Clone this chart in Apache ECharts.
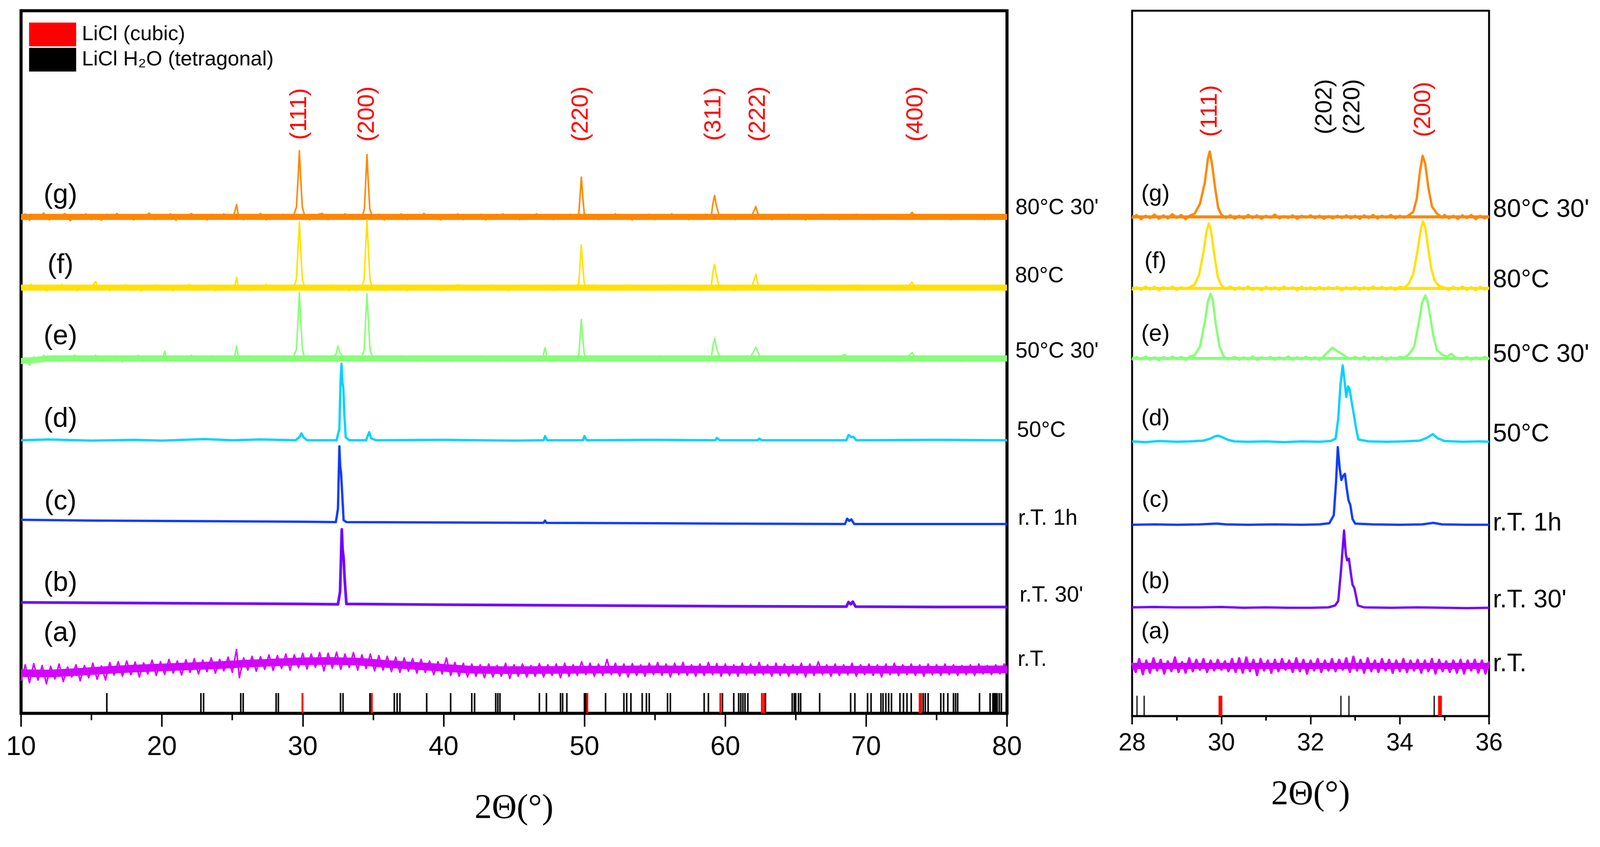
<!DOCTYPE html>
<html>
<head>
<meta charset="utf-8">
<script src="https://cdn.jsdelivr.net/npm/echarts@6/dist/echarts.min.js"></script>
<style>
  html, body { margin: 0; padding: 0; background: #fff; overflow: hidden; }
  #main { width: 4182px; height: 2169px; transform-origin: 0 0; }
</style>
</head>
<body>
<div id="main"></div>
<script>
// sample names, bottom to top
var sampleTags = ['(a)', '(b)', '(c)', '(d)', '(e)', '(f)', '(g)'];
var conditions = ["r.T.", "r.T. 30'", "r.T. 1h", "50°C", "50°C 30'", "80°C", "80°C 30'"];

// vertical offsets of each pattern (a.u.)
var offsetsLeft = [115, 278, 495, 714, 928, 1113, 1298];
var offsetsRight = [131, 283, 500, 717, 935, 1118, 1305];

// reference patterns (2theta)
var refCubic = [29.98, 34.9, 50.2, 59.65, 62.6, 62.75, 73.8, 73.9];
var refTetragonal = [16.09, 22.77, 22.96, 25.6, 25.77, 28.11, 28.27, 32.68, 32.86, 34.77, 36.5, 36.7, 36.9, 38.8, 40.5,
  42.0, 42.2, 43.7, 43.85, 44.0, 46.8, 47.3, 48.3, 48.45, 48.75, 50.0, 50.1, 51.5, 52.8, 53.0, 53.3, 54.1, 54.4, 54.6,
  55.9, 56.1, 58.5, 58.8, 59.8, 60.6, 60.95, 61.1, 61.25, 61.4, 61.6, 62.85, 64.75, 64.9, 65.0, 65.2, 65.35, 66.7,
  68.9, 69.2, 70.1, 70.35, 71.05, 71.2, 71.4, 71.6, 71.8, 72.4, 72.65, 72.9, 73.2, 74.05, 74.2, 74.4, 75.3, 75.5,
  75.8, 76.2, 76.35, 76.5, 78.05, 78.8, 79.0, 79.1, 79.2, 79.3, 79.45, 79.6];
var refTickHeight = 53;

var millerLeft = ['(111)', '(200)', '(220)', '(311)', '(222)', '(400)'];
var millerLeftPos = [29.78, 34.59, 49.76, 59.18, 62.34, 73.53];
var millerRight = ['(111)', '(202)', '(220)', '(200)'];
var millerRightPos = [29.75, 32.32, 32.95, 34.53];
var millerRightPhase = ['cubic', 'tetragonal', 'tetragonal', 'cubic'];

// measured patterns, [2theta, intensity above own baseline]
var leftA = [[10.0,-30],[10.3,12],[10.6,-35],[10.9,15],[11.2,-28],[11.5,10],[11.8,-38],[12.1,8],[12.4,-25],[12.7,14],[13.0,-32],[13.3,6],[13.6,-20],[13.9,12],[14.2,-30],[14.5,10],[14.8,-22],[15.1,16],[15.4,-26],[15.7,9],[16.0,-28],[16.3,18],[16.6,-15],[16.9,20],[17.2,-18],[17.5,22],[17.8,-14],[18.1,19],[18.4,-20],[18.7,17],[19.0,-12],[19.3,24],[19.6,-16],[19.9,20],[20.2,-13],[20.5,26],[20.8,-10],[21.1,22],[21.4,-15],[21.7,25],[22.0,-8],[22.3,28],[22.6,-12],[22.9,24],[23.2,-6],[23.5,30],[23.8,-10],[24.1,26],[24.4,-4],[24.7,32],[25.0,-8],[25.3,52],[25.5,-22],[25.8,30],[26.1,-2],[26.4,34],[26.7,-5],[27.0,33],[27.3,0],[27.6,38],[27.9,-3],[28.2,36],[28.5,2],[28.8,40],[29.1,-2],[29.4,38],[29.7,4],[30.0,42],[30.3,1],[30.6,40],[30.9,5],[31.2,44],[31.5,-4],[31.8,42],[32.1,3],[32.4,45],[32.7,0],[33.0,40],[33.3,5],[33.6,44],[33.9,-2],[34.2,38],[34.5,2],[34.8,40],[35.1,-4],[35.4,36],[35.7,-2],[36.0,34],[36.3,-6],[36.6,32],[36.9,-8],[37.2,30],[37.5,-5],[37.8,28],[38.1,-10],[38.4,26],[38.7,-8],[39.0,22],[39.3,-14],[39.6,20],[39.9,-12],[40.2,30],[40.5,-16],[40.8,18],[41.1,-18],[41.4,16],[41.7,-20],[42.0,14],[42.3,-18],[42.6,12],[42.9,-22],[43.2,14],[43.5,-20],[43.8,10],[44.1,-18],[44.4,16],[44.7,-24],[45.0,12],[45.3,-18],[45.6,14],[45.9,-20],[46.2,10],[46.5,-18],[46.8,15],[47.1,-20],[47.4,12],[47.7,-16],[48.0,14],[48.3,-22],[48.6,16],[48.9,-18],[49.2,12],[49.5,-16],[49.8,20],[50.1,-14],[50.4,16],[50.7,-18],[51.0,14],[51.3,-16],[51.6,26],[51.9,-14],[52.2,16],[52.5,-18],[52.8,14],[53.1,-20],[53.4,15],[53.7,-16],[54.0,12],[54.3,-18],[54.6,16],[54.9,-14],[55.2,18],[55.5,-16],[55.8,14],[56.1,-20],[56.4,16],[56.7,-14],[57.0,18],[57.3,-16],[57.6,12],[57.9,-18],[58.2,14],[58.5,-16],[58.8,18],[59.1,-14],[59.4,15],[59.7,-18],[60.0,14],[60.3,-16],[60.6,12],[60.9,-18],[61.2,16],[61.5,-14],[61.8,14],[62.1,-16],[62.4,18],[62.7,-14],[63.0,12],[63.3,-18],[63.6,16],[63.9,-16],[64.2,14],[64.5,-18],[64.8,12],[65.1,-14],[65.4,16],[65.7,-20],[66.0,14],[66.3,-16],[66.6,20],[66.9,-14],[67.2,12],[67.5,-18],[67.8,14],[68.1,-16],[68.4,12],[68.7,-14],[69.0,16],[69.3,-18],[69.6,12],[69.9,-14],[70.2,14],[70.5,-16],[70.8,12],[71.1,-20],[71.4,14],[71.7,-14],[72.0,16],[72.3,-16],[72.6,12],[72.9,-14],[73.2,14],[73.5,-16],[73.8,12],[74.1,-18],[74.4,14],[74.7,-14],[75.0,12],[75.3,-16],[75.6,14],[75.9,-14],[76.2,12],[76.5,-16],[76.8,10],[77.1,-14],[77.4,12],[77.7,-16],[78.0,14],[78.3,-12],[78.6,10],[78.9,-14],[79.2,12],[79.5,-12],[79.8,14],[80.0,-4]];

var leftB = [[10,12],[15,11],[20,10],[25,9],[30,8],[32.5,7],[32.65,40],[32.77,203],[32.83,150],[32.9,129],[32.98,70],[33.1,8],[40,6],[50,4],[60,2],[68.6,1],[68.75,13],[68.9,7],[69.05,14],[69.25,1],[75,0],[80,0]];

var leftC = [[10,11],[15,9],[20,8],[25,7],[30,6],[32.35,5],[32.5,40],[32.6,203],[32.66,150],[32.72,134],[32.8,80],[32.9,10],[33.1,5],[40,4],[47.1,3],[47.2,9],[47.3,3],[55,2],[60,1],[68.5,0],[68.65,14],[68.8,8],[68.95,12],[69.15,0],[75,0],[80,0]];

var leftD = [[10,0],[12,2],[15,-1],[18,1],[20,-1],[23,3],[25,0],[27,2],[29.5,0],[29.8,10],[29.9,18],[30.05,8],[30.3,0],[32.4,0],[32.6,30],[32.68,150],[32.75,200],[32.82,150],[32.88,138],[32.95,70],[33.05,8],[33.3,0],[34.5,0],[34.65,15],[34.72,21],[34.85,5],[35.2,0],[40,1],[45,-1],[47.1,0],[47.2,11],[47.35,0],[49.9,0],[50.0,11],[50.15,0],[55,1],[59.3,0],[59.4,6],[59.6,0],[62.3,0],[62.4,4],[62.6,0],[68.6,0],[68.75,14],[68.95,8],[69.1,9],[69.3,0],[75,1],[80,0]];

var leftE = [[10.0,-14],[10.3,2],[10.6,-18],[10.9,4],[11.3,-9],[11.6,8],[12.0,-6],[12.4,7],[12.7,-8],[13.1,5],[13.5,-5],[13.8,9],[14.2,-7],[14.6,4],[15.0,-6],[15.3,8],[15.7,-8],[16.1,5],[16.5,-4],[16.8,7],[17.2,-9],[17.6,4],[18.0,-5],[18.3,8],[18.7,-7],[19.1,3],[19.5,-6],[19.8,6],[20.05,-2],[20.2,19],[20.35,-3],[20.6,6],[21.0,-8],[21.3,5],[21.7,-5],[22.1,8],[22.5,-7],[22.8,4],[23.2,-6],[23.6,7],[24.0,-5],[24.4,6],[24.8,-7],[25.15,3],[25.3,32],[25.45,2],[25.8,-6],[26.2,7],[26.6,-5],[27.0,6],[27.4,-8],[27.8,5],[28.2,-4],[28.6,7],[29.0,-6],[29.35,4],[29.55,24],[29.68,110],[29.76,173],[29.84,112],[29.97,26],[30.15,-3],[30.5,6],[30.9,-7],[31.3,5],[31.7,-5],[32.1,4],[32.35,10],[32.5,33],[32.65,14],[32.8,6],[33.1,-6],[33.5,5],[33.9,-4],[34.2,3],[34.36,22],[34.47,105],[34.56,169],[34.65,104],[34.78,22],[35.0,-2],[35.4,6],[35.8,-7],[36.2,4],[36.6,-5],[37.0,7],[37.4,-6],[37.8,5],[38.2,-8],[38.6,6],[39.0,-4],[39.4,7],[39.8,-6],[40.2,4],[40.6,-7],[41.0,6],[41.4,-4],[41.8,5],[42.2,-6],[42.6,7],[43.0,-5],[43.4,4],[43.8,-7],[44.2,6],[44.6,-4],[45.0,5],[45.4,-6],[45.8,7],[46.2,-5],[46.6,5],[47.05,4],[47.2,28],[47.35,3],[47.7,-6],[48.1,5],[48.5,-5],[48.9,6],[49.3,-4],[49.6,10],[49.7,62],[49.78,102],[49.86,64],[49.98,12],[50.2,-4],[50.6,6],[51.0,-7],[51.4,5],[51.8,-5],[52.2,6],[52.6,-6],[53.0,4],[53.4,-7],[53.8,6],[54.2,-4],[54.6,5],[55.0,-6],[55.4,7],[55.8,-5],[56.2,4],[56.6,-7],[57.0,6],[57.4,-4],[57.8,5],[58.2,-6],[58.6,6],[59.0,2],[59.12,32],[59.24,52],[59.36,30],[59.55,8],[59.9,-5],[60.3,6],[60.7,-6],[61.1,5],[61.5,-4],[61.85,8],[62.05,20],[62.17,29],[62.3,18],[62.5,2],[62.8,-5],[63.2,6],[63.6,-6],[64.0,4],[64.4,-5],[64.8,6],[65.2,-7],[65.6,4],[66.0,-4],[66.4,6],[66.8,-6],[67.2,5],[67.6,-5],[68.0,4],[68.5,10],[68.9,-4],[69.3,5],[69.7,-6],[70.1,4],[70.5,-5],[70.9,6],[71.3,-7],[71.7,5],[72.1,-4],[72.5,5],[72.9,2],[73.26,15],[73.6,-3],[74.0,5],[74.4,-6],[74.8,4],[75.2,-7],[75.6,5],[76.0,-5],[76.4,4],[76.8,-8],[77.2,5],[77.6,-5],[78.0,6],[78.4,-6],[78.8,4],[79.2,-5],[79.6,5],[80.0,-3]];

var leftF = [[10.0,4],[10.3,-7],[10.7,9],[11.0,-5],[11.4,7],[11.8,-9],[12.1,5],[12.5,-4],[12.9,8],[13.2,-6],[13.6,3],[14.0,-8],[14.4,6],[14.7,-5],[15.1,7],[15.3,16],[15.5,-6],[15.9,4],[16.3,-8],[16.6,6],[17.0,-3],[17.4,8],[17.8,-7],[18.1,5],[18.5,-9],[18.9,6],[19.3,-4],[19.6,7],[20.0,-6],[20.4,3],[20.8,-8],[21.1,6],[21.5,-4],[21.9,8],[22.3,-7],[22.6,4],[23.0,-5],[23.4,7],[23.8,-8],[24.1,5],[24.5,-4],[24.9,6],[25.15,-2],[25.3,27],[25.45,-3],[25.8,6],[26.2,-7],[26.6,5],[27.0,-4],[27.4,8],[27.8,-6],[28.2,4],[28.6,-7],[29.0,6],[29.35,-2],[29.55,22],[29.68,112],[29.76,172],[29.84,108],[29.97,22],[30.15,-2],[30.5,6],[30.9,-7],[31.3,5],[31.7,-4],[32.1,7],[32.5,-6],[32.9,4],[33.3,-8],[33.7,6],[34.1,-3],[34.36,20],[34.47,110],[34.56,177],[34.65,105],[34.78,18],[35.0,-4],[35.4,6],[35.8,-7],[36.2,5],[36.6,-5],[37.0,7],[37.4,-8],[37.8,4],[38.2,-4],[38.6,7],[39.0,-6],[39.4,5],[39.8,-7],[40.2,6],[40.6,-4],[41.0,8],[41.4,-5],[41.8,4],[42.2,-7],[42.6,6],[43.0,-3],[43.4,7],[43.8,-6],[44.2,5],[44.6,-8],[45.0,4],[45.4,-5],[45.8,7],[46.2,-6],[46.6,5],[47.0,-4],[47.4,7],[47.8,-7],[48.2,5],[48.6,-5],[49.0,6],[49.4,-3],[49.6,12],[49.7,68],[49.78,112],[49.86,66],[49.98,12],[50.2,-5],[50.6,7],[51.0,-6],[51.4,4],[51.8,-7],[52.2,6],[52.6,-4],[53.0,7],[53.4,-6],[53.8,5],[54.2,-5],[54.6,6],[55.0,-7],[55.4,4],[55.8,-4],[56.2,7],[56.6,-6],[57.0,5],[57.4,-5],[57.8,6],[58.2,-7],[58.6,4],[59.0,3],[59.12,40],[59.24,61],[59.36,34],[59.55,4],[59.9,-6],[60.3,5],[60.7,-7],[61.1,6],[61.5,-4],[61.9,4],[62.08,24],[62.17,35],[62.28,14],[62.5,-5],[62.9,6],[63.3,-6],[63.7,4],[64.1,-7],[64.5,6],[64.9,-4],[65.3,5],[65.7,-6],[66.1,7],[66.5,-5],[66.9,4],[67.3,-7],[67.7,6],[68.1,-4],[68.5,5],[68.9,-6],[69.3,7],[69.7,-5],[70.1,4],[70.5,-6],[70.9,6],[71.3,-3],[71.7,5],[72.1,-7],[72.5,5],[72.9,0],[73.26,14],[73.6,-4],[74.0,6],[74.4,-6],[74.8,4],[75.2,-5],[75.6,6],[76.0,-6],[76.4,5],[76.8,-4],[77.2,6],[77.6,-7],[78.0,5],[78.4,-5],[78.8,6],[79.2,-6],[79.6,4],[80.0,2]];

var leftG = [[10.0,-6],[10.3,8],[10.6,-9],[10.9,5],[11.3,-4],[11.6,10],[12.0,-8],[12.4,6],[12.7,-3],[13.1,9],[13.5,-10],[13.8,4],[14.2,-5],[14.6,8],[15.0,-7],[15.3,3],[15.7,-9],[16.1,7],[16.5,-4],[16.8,9],[17.2,-6],[17.6,5],[18.0,-8],[18.3,6],[18.7,-2],[19.1,10],[19.5,-7],[19.8,4],[20.2,-5],[20.6,8],[21.0,-9],[21.3,5],[21.7,-3],[22.1,9],[22.5,-6],[22.8,3],[23.2,-8],[23.6,7],[24.0,-4],[24.4,8],[24.8,-6],[25.1,2],[25.3,32],[25.45,0],[25.8,-7],[26.2,6],[26.6,-5],[27.0,9],[27.4,-8],[27.8,4],[28.2,-6],[28.6,7],[29.0,-3],[29.35,4],[29.55,25],[29.68,110],[29.76,173],[29.84,110],[29.97,25],[30.15,2],[30.5,-8],[30.9,5],[31.4,9],[31.8,-7],[32.2,6],[32.6,-5],[33.0,8],[33.4,-6],[33.8,4],[34.2,-4],[34.38,22],[34.48,100],[34.56,163],[34.64,100],[34.76,20],[35.0,-3],[35.4,7],[35.8,-8],[36.2,5],[36.6,-5],[37.0,8],[37.4,-7],[37.8,3],[38.2,-6],[38.6,9],[39.0,-5],[39.4,4],[39.8,-8],[40.2,6],[40.6,-3],[41.0,8],[41.4,-7],[41.8,5],[42.2,-4],[42.6,7],[43.0,-8],[43.4,4],[43.8,-5],[44.2,8],[44.6,-6],[45.0,5],[45.4,-7],[45.8,6],[46.2,-3],[46.6,8],[47.0,-6],[47.4,4],[47.8,-7],[48.2,6],[48.6,-4],[49.0,7],[49.4,-5],[49.6,10],[49.7,62],[49.78,104],[49.86,62],[49.98,10],[50.2,-6],[50.6,6],[51.0,-7],[51.4,5],[51.8,-4],[52.2,8],[52.6,-6],[53.0,4],[53.4,-8],[53.8,6],[54.2,-3],[54.6,7],[55.0,-7],[55.4,5],[55.8,-5],[56.2,8],[56.6,-6],[57.0,3],[57.4,-7],[57.8,6],[58.2,-4],[58.6,7],[59.0,2],[59.12,35],[59.24,56],[59.36,30],[59.55,5],[59.9,-6],[60.3,6],[60.7,-7],[61.1,4],[61.5,-5],[61.9,5],[62.08,20],[62.17,27],[62.28,12],[62.5,-4],[62.9,6],[63.3,-7],[63.7,5],[64.1,-5],[64.5,7],[64.9,-6],[65.3,4],[65.7,-8],[66.1,6],[66.5,-4],[66.9,7],[67.3,-6],[67.7,5],[68.1,-7],[68.5,6],[68.9,-3],[69.3,7],[69.7,-6],[70.1,4],[70.5,-7],[70.9,6],[71.3,-4],[71.7,5],[72.1,-6],[72.5,6],[72.9,-3],[73.26,12],[73.6,-5],[74.0,5],[74.4,-6],[74.8,6],[75.2,-4],[75.6,5],[76.0,-7],[76.4,4],[76.8,-5],[77.2,6],[77.6,-6],[78.0,4],[78.4,-7],[78.8,5],[79.2,-5],[79.6,6],[80.0,-4]];

var rightA = [[28.0,8],[28.08,-16],[28.16,18],[28.24,-22],[28.32,14],[28.4,-18],[28.48,20],[28.56,-12],[28.64,16],[28.72,-20],[28.8,12],[28.88,-14],[28.96,22],[29.04,-16],[29.12,10],[29.2,-18],[29.28,20],[29.36,-14],[29.44,16],[29.52,-10],[29.6,18],[29.68,-16],[29.76,14],[29.84,-12],[29.92,16],[30.0,-10],[30.08,12],[30.16,-14],[30.24,18],[30.32,-16],[30.4,20],[30.48,-18],[30.56,22],[30.64,-14],[30.72,16],[30.8,-24],[30.88,18],[30.96,-12],[31.04,14],[31.12,-18],[31.2,16],[31.28,-14],[31.36,18],[31.44,-10],[31.52,14],[31.6,-16],[31.68,20],[31.76,-14],[31.84,16],[31.92,-20],[32.0,14],[32.08,-12],[32.16,18],[32.24,-16],[32.32,14],[32.4,-12],[32.48,18],[32.56,-14],[32.64,16],[32.72,-10],[32.8,20],[32.88,-16],[32.96,24],[33.04,-12],[33.12,16],[33.2,-18],[33.28,20],[33.36,-14],[33.44,14],[33.52,-16],[33.6,18],[33.68,-12],[33.76,16],[33.84,-18],[33.92,14],[34.0,-14],[34.08,18],[34.16,-16],[34.24,14],[34.32,-12],[34.4,16],[34.48,-18],[34.56,14],[34.64,-14],[34.72,18],[34.8,-20],[34.88,16],[34.96,-14],[35.04,12],[35.12,-16],[35.2,14],[35.28,-18],[35.36,16],[35.44,-20],[35.52,14],[35.6,-12],[35.68,16],[35.76,-18],[35.84,14],[35.92,-20],[36.0,12]];

var rightB = [[28.0,1],[28.5,2],[29.0,1],[29.5,1],[30.0,2],[30.5,0],[31.0,1],[31.5,0],[32.0,0],[32.4,1],[32.55,6],[32.62,18],[32.68,95],[32.75,202],[32.79,140],[32.82,124],[32.86,128],[32.9,92],[32.94,60],[32.98,52],[33.02,30],[33.06,6],[33.2,1],[33.8,0],[34.4,1],[35.0,0],[35.5,-1],[36.0,0]];

var rightC = [[28.0,0],[28.5,1],[29.0,0],[29.5,1],[29.9,3],[30.1,1],[30.6,0],[31.2,1],[31.8,0],[32.2,1],[32.42,4],[32.52,25],[32.57,110],[32.61,203],[32.65,150],[32.69,117],[32.73,128],[32.77,133],[32.81,95],[32.85,64],[32.89,52],[32.94,15],[33.0,3],[33.4,1],[34.0,0],[34.5,1],[34.75,5],[34.95,1],[35.5,0],[36.0,0]];

var rightD = [[28.0,1],[28.3,-1],[28.6,2],[29.0,0],[29.3,1],[29.6,3],[29.75,8],[29.85,14],[29.93,16],[30.02,12],[30.15,5],[30.3,1],[30.6,0],[31.0,1],[31.4,-1],[31.8,1],[32.2,0],[32.45,2],[32.56,8],[32.62,60],[32.67,150],[32.72,200],[32.76,160],[32.8,117],[32.84,145],[32.87,139],[32.92,105],[32.98,64],[33.02,35],[33.07,6],[33.3,1],[33.7,0],[34.1,1],[34.45,3],[34.6,10],[34.74,20],[34.85,9],[35.0,2],[35.4,0],[35.8,1],[36.0,0]];

var rightE = [[28.0,-4],[28.1,4],[28.2,-3],[28.3,5],[28.4,-4],[28.5,3],[28.6,-5],[28.7,4],[28.8,-3],[28.9,5],[29.0,-2],[29.1,4],[29.2,-4],[29.3,5],[29.4,8],[29.52,30],[29.63,95],[29.7,150],[29.76,169],[29.81,150],[29.88,85],[29.96,30],[30.05,6],[30.15,-3],[30.3,4],[30.4,-4],[30.5,3],[30.6,-3],[30.7,5],[30.8,-4],[30.9,3],[31.0,-2],[31.1,4],[31.2,-4],[31.3,3],[31.4,-3],[31.5,5],[31.6,-4],[31.7,3],[31.8,-2],[31.9,4],[32.0,-3],[32.1,3],[32.2,-4],[32.3,6],[32.4,18],[32.49,28],[32.58,20],[32.7,12],[32.8,4],[32.9,-2],[33.0,4],[33.1,-3],[33.2,5],[33.3,-4],[33.4,3],[33.5,-3],[33.6,4],[33.7,-4],[33.8,3],[33.9,-2],[34.0,4],[34.1,2],[34.2,10],[34.32,30],[34.42,90],[34.5,145],[34.57,165],[34.62,150],[34.68,110],[34.75,60],[34.83,22],[34.95,10],[35.05,4],[35.15,12],[35.25,2],[35.4,-3],[35.5,4],[35.6,-4],[35.7,3],[35.8,-3],[35.9,4],[36.0,-2]];

var rightF = [[28.0,-5],[28.1,3],[28.2,-4],[28.3,5],[28.4,-3],[28.5,4],[28.6,-5],[28.7,3],[28.8,-2],[28.9,5],[29.0,-4],[29.1,3],[29.2,-2],[29.3,4],[29.4,10],[29.5,35],[29.6,95],[29.67,150],[29.72,170],[29.77,150],[29.84,90],[29.92,30],[30.0,8],[30.1,-2],[30.2,5],[30.3,-4],[30.4,3],[30.5,-3],[30.6,5],[30.7,-4],[30.8,2],[30.9,-5],[31.0,4],[31.1,-3],[31.2,3],[31.3,-4],[31.4,5],[31.5,-2],[31.6,3],[31.7,-5],[31.8,4],[31.9,-3],[32.0,3],[32.1,-4],[32.2,4],[32.3,-3],[32.4,3],[32.5,-2],[32.6,4],[32.7,-5],[32.8,3],[32.9,-3],[33.0,4],[33.1,-4],[33.2,3],[33.3,-3],[33.4,5],[33.5,-2],[33.6,4],[33.7,-3],[33.8,3],[33.9,-4],[34.0,4],[34.1,2],[34.2,12],[34.3,38],[34.4,100],[34.47,155],[34.52,175],[34.57,160],[34.63,110],[34.7,55],[34.78,20],[34.88,6],[35.0,2],[35.1,-4],[35.2,4],[35.3,-3],[35.4,5],[35.5,-4],[35.6,3],[35.7,-5],[35.8,4],[35.9,-3],[36.0,3]];

var rightG = [[28.0,-4],[28.1,5],[28.2,-6],[28.3,3],[28.4,-3],[28.5,6],[28.6,-5],[28.7,4],[28.8,-4],[28.9,7],[29.0,-2],[29.1,5],[29.2,-6],[29.3,4],[29.4,8],[29.52,34],[29.63,90],[29.7,153],[29.74,171],[29.79,139],[29.86,76],[29.93,23],[30.0,6],[30.1,-3],[30.2,4],[30.3,-5],[30.4,3],[30.5,-4],[30.6,5],[30.7,-3],[30.8,4],[30.9,-5],[31.0,3],[31.1,-2],[31.2,6],[31.3,-4],[31.4,2],[31.5,-3],[31.6,4],[31.7,-5],[31.8,3],[31.9,-2],[32.0,4],[32.1,-3],[32.2,3],[32.3,-5],[32.4,2],[32.5,-4],[32.6,3],[32.7,-3],[32.8,4],[32.9,-4],[33.0,3],[33.1,-5],[33.2,4],[33.3,-3],[33.4,5],[33.5,-4],[33.6,3],[33.7,-2],[33.8,5],[33.9,-4],[34.0,3],[34.1,-2],[34.2,4],[34.3,13],[34.38,48],[34.45,118],[34.51,160],[34.57,139],[34.64,76],[34.72,27],[34.83,9],[34.95,-2],[35.0,5],[35.1,-4],[35.2,3],[35.3,-5],[35.4,4],[35.5,-3],[35.6,5],[35.7,-6],[35.8,3],[35.9,-4],[36.0,2]];

// mean level of the noisy backgrounds, [2theta, level above own baseline]
var bgLeftA = [[10,-10],[12,-11],[14,-7],[16,-2],[18,2],[20,5],[22,8],[24,11],[26,15],[28,18],[30,21],[32,22],[34,20],[36,14],[38,9],[40,4],[42,-1],[44,-2],[46,-2],[50,-1],[55,0],[60,-1],[65,-1],[70,-1],[75,-1],[80,0]];
var bgLeftE = [[10,-7],[11,-4],[12,0],[80,0]];
var bgLeftF = [[10,0],[80,0]];
var bgLeftG = [[10,0],[80,0]];
var bgRightA = [[28,0],[36,0]];
var bgRightE = [[28,0],[36,0]];
var bgRightF = [[28,0],[36,0]];
var bgRightG = [[28,0],[36,0]];

var leftTraces = [leftA, leftB, leftC, leftD, leftE, leftF, leftG];
var rightTraces = [rightA, rightB, rightC, rightD, rightE, rightF, rightG];
var leftBackgrounds = [bgLeftA, null, null, null, bgLeftE, bgLeftF, bgLeftG];
var rightBackgrounds = [bgRightA, null, null, null, bgRightE, bgRightF, bgRightG];

// look
var colors = ['#D400FF', '#6E00FF', '#0D3BFF', '#00D2FF', '#86FF76', '#FFE100', '#FF8600'];
var leftWidths = [4, 7, 6, 6, 4, 4, 4];
var leftBandWidths = [20, 0, 0, 0, 16, 16, 16];
var rightBandWidths = [16, 0, 0, 0, 8, 8, 8];
var sansFont = 'Liberation Sans, Arial, sans-serif';
var serifFont = 'Liberation Serif, Times New Roman, serif';

// label layout (pixels)
var tagLeftX = 158, tagRightX = 3020;
var tagLeftY = [1656, 1525, 1312, 1096, 880, 694, 511];
var tagRightY = [1652, 1521, 1308, 1095, 874, 684, 508];
var condLeftX = [2660, 2665, 2661, 2658, 2654, 2653, 2654];
var condLeftY = [1725, 1557, 1356, 1126, 919, 722, 544];
var condRightX = 3902;
var condRightY = [1737, 1570, 1369, 1136, 928, 733, 549];

// fit the 4182 x 2169 drawing into whatever viewport we get
var box = document.getElementById('main');
var fit = Math.min(document.documentElement.clientWidth / 4182, document.documentElement.clientHeight / 2169);
if (fit > 0 && fit < 1) box.style.transform = 'scale(' + fit + ')';

var chart = echarts.init(box, null, { width: 4182, height: 2169 });

function shift(points, off) {
  return points.map(function (p) { return [p[0], p[1] + off]; });
}

function refSeries(name, values, color, width, axis) {
  return {
    type: 'custom',
    name: name,
    xAxisIndex: axis,
    yAxisIndex: axis,
    clip: true,
    silent: true,
    z: 3,
    itemStyle: { color: color },
    data: values.map(function (v) { return [v, refTickHeight]; }),
    renderItem: function (params, api) {
      var top = api.coord([api.value(0), api.value(1)]);
      var bot = api.coord([api.value(0), 0]);
      return {
        type: 'line',
        shape: { x1: top[0], y1: top[1], x2: bot[0], y2: bot[1] },
        style: { stroke: color, lineWidth: width }
      };
    }
  };
}

function lineSeries(axis, data, color, width, z) {
  return {
    type: 'line', xAxisIndex: axis, yAxisIndex: axis, silent: true,
    data: data, showSymbol: false, symbol: 'none',
    lineStyle: { color: color, width: width, join: 'round' },
    itemStyle: { color: color }, z: z
  };
}

var series = [];
for (var i = 0; i < 7; i++) {
  if (leftBackgrounds[i]) series.push(lineSeries(0, shift(leftBackgrounds[i], offsetsLeft[i]), colors[i], leftBandWidths[i], 1));
  if (rightBackgrounds[i]) series.push(lineSeries(1, shift(rightBackgrounds[i], offsetsRight[i]), colors[i], rightBandWidths[i], 1));
  series.push(lineSeries(0, shift(leftTraces[i], offsetsLeft[i]), colors[i], leftWidths[i], 2));
  series.push(lineSeries(1, shift(rightTraces[i], offsetsRight[i]), colors[i], 6, 2));
}
series.push(refSeries('LiCl H₂O (tetragonal)', refTetragonal, '#000', 4, 0));
series.push(refSeries('LiCl (cubic)', refCubic, '#FF0000', 5, 0));
series.push(refSeries('LiCl H₂O (tetragonal)', refTetragonal, '#000', 3, 1));
series.push(refSeries('LiCl (cubic)', refCubic, '#FF0000', 10, 1));

function xAxisFor(grid, min, max, step, opt) {
  return {
    gridIndex: grid, type: 'value', min: min, max: max, interval: step,
    axisLine: { onZero: false, lineStyle: { color: '#000', width: opt.line } },
    axisTick: { inside: false, length: opt.tick, lineStyle: { color: '#000', width: 4 } },
    minorTick: { show: true, splitNumber: 2, length: opt.minor, lineStyle: { color: '#000', width: 4 } },
    splitLine: { show: false },
    axisLabel: { color: '#000', fontSize: opt.font, fontFamily: sansFont, margin: opt.margin, showMinLabel: true, showMaxLabel: true },
    name: '2Θ(°)', nameLocation: 'middle', nameGap: opt.nameGap,
    nameTextStyle: { color: '#000', fontSize: 90, fontFamily: serifFont }
  };
}

chart.setOption({
  animation: false,
  backgroundColor: '#fff',
  grid: [
    { left: 55, right: 1550, top: 28, bottom: 304, show: true, borderColor: '#000', borderWidth: 8, containLabel: false, outerBoundsMode: 'none' },
    { left: 2959, right: 290, top: 28, bottom: 297, show: true, borderColor: '#000', borderWidth: 5, containLabel: false, outerBoundsMode: 'none' }
  ],
  xAxis: [
    xAxisFor(0, 10, 80, 10, { line: 8, tick: 35, minor: 18, font: 70, margin: 55, nameGap: 205 }),
    xAxisFor(1, 28, 36, 2, { line: 5, tick: 22, minor: 12, font: 64, margin: 40, nameGap: 162 })
  ],
  yAxis: [
    { gridIndex: 0, type: 'value', min: 0, max: 1837, show: false },
    { gridIndex: 1, type: 'value', min: 0, max: 1844, show: false }
  ],
  legend: {
    show: true, orient: 'vertical', left: 71, top: 54, itemWidth: 123, itemHeight: 62, itemGap: 4,
    icon: 'rect', selectedMode: false,
    data: ['LiCl (cubic)', 'LiCl H₂O (tetragonal)'],
    textStyle: { color: '#000', fontSize: 54, fontFamily: sansFont, padding: [0, 0, 0, 10] }
  },
  series: series
});

// annotations
var graphic = [];
function addText(x, y, text, size, color, align, rot) {
  graphic.push({
    type: 'text', x: x, y: y, rotation: rot || 0, silent: true, z: 10,
    style: { text: text, fontSize: size, fontFamily: sansFont, fill: color, align: align, verticalAlign: 'middle' }
  });
}
for (var k = 0; k < 7; k++) {
  addText(tagLeftX, tagLeftY[k], sampleTags[k], 72, '#000', 'center');
  addText(tagRightX, tagRightY[k], sampleTags[k], 61, '#000', 'center');
  addText(condLeftX[k], condLeftY[k], conditions[k], 57, '#000', 'left');
  addText(condRightX, condRightY[k], conditions[k], 66, '#000', 'left');
}
millerLeft.forEach(function (t, j) {
  var px = chart.convertToPixel({ xAxisIndex: 0 }, millerLeftPos[j]);
  addText(px, 298, t, 62, '#FF0000', 'center', Math.PI / 2);
});
var millerRightY = [290, 279, 279, 286];
millerRight.forEach(function (t, j) {
  var px = chart.convertToPixel({ xAxisIndex: 1 }, millerRightPos[j]);
  addText(px, millerRightY[j], t, 62, millerRightPhase[j] === 'cubic' ? '#FF0000' : '#000', 'center', Math.PI / 2);
});
chart.setOption({ graphic: graphic });
</script>
</body>
</html>
